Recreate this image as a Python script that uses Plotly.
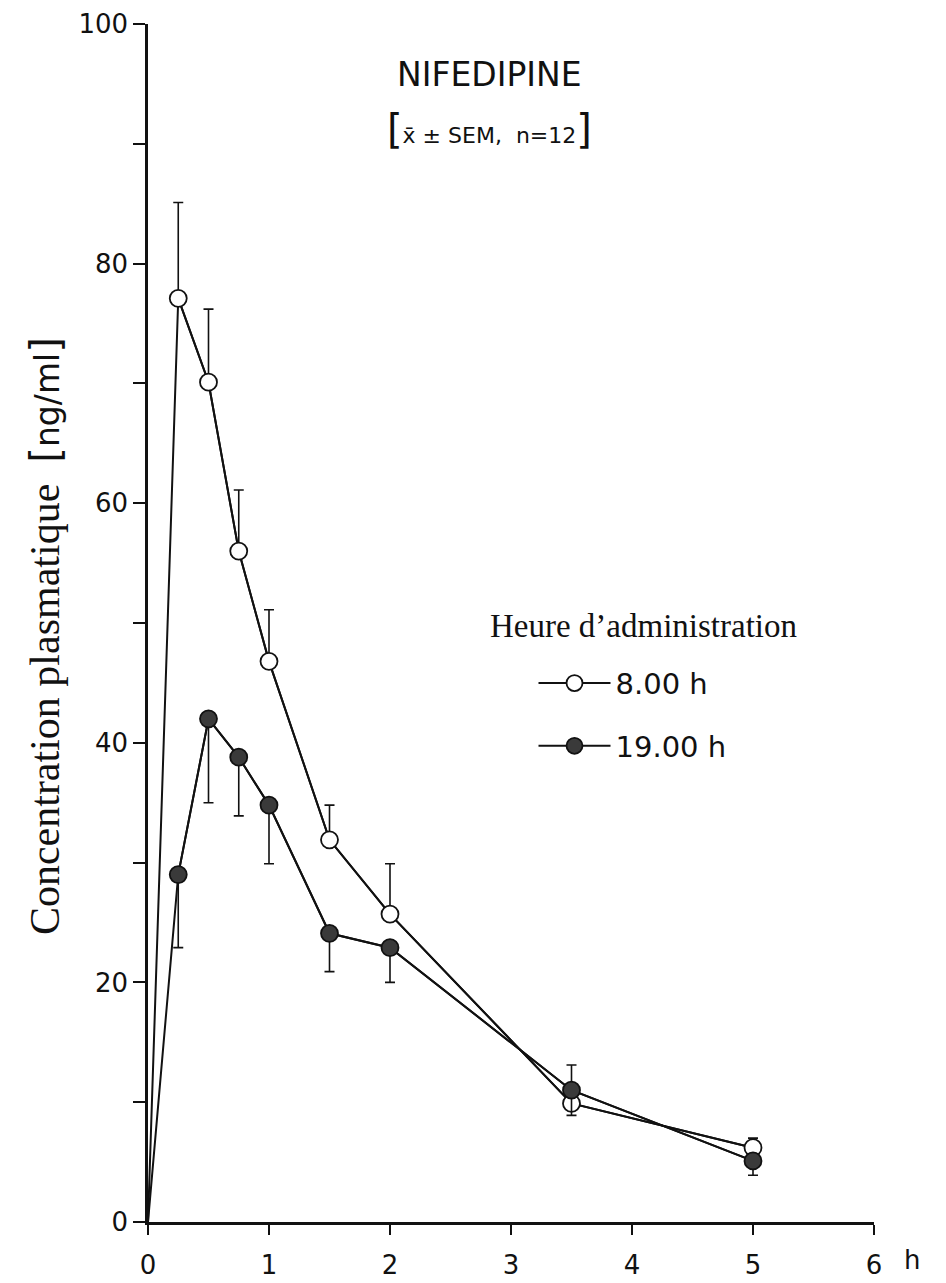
import plotly.graph_objects as go

# ---- data ----
hours = [0, 0.25, 0.5, 0.75, 1, 1.5, 2, 3.5, 5]
conc_8h = [0, 77.1, 70.1, 56.0, 46.8, 31.9, 25.7, 9.9, 6.2]
sem_8h = [0, 8.0, 6.1, 5.1, 4.3, 2.9, 4.2, 3.2, 0.8]
conc_19h = [0, 29.0, 42.0, 38.8, 34.8, 24.1, 22.9, 11.0, 5.1]
sem_19h = [0, 6.1, 7.0, 4.9, 4.9, 3.2, 2.9, 2.1, 1.2]

series_names = ["8.00 h", "19.00 h"]
x_ticks = [0, 1, 2, 3, 4, 5, 6]
y_ticks = [0, 20, 40, 60, 80, 100]
y_minor_ticks = [10, 30, 50, 70, 90]

INK = "#111111"
SANS = "DejaVu Sans"
SERIF = "Liberation Serif"

fig = go.Figure()

specs = [
    (conc_8h, sem_8h, series_names[0], "white", True),
    (conc_19h, sem_19h, series_names[1], "#3a3a3a", False),
]
for conc, sem, name, fill, upward in specs:
    zeros = [0] * (len(hours) - 1)
    # connecting line from dosing time (origin)
    fig.add_trace(go.Scatter(
        x=hours, y=conc, mode="lines",
        line=dict(color=INK, width=2), showlegend=False, hoverinfo="skip"))
    fig.add_trace(go.Scatter(
        x=hours[1:], y=conc[1:], mode="lines+markers", name=name,
        line=dict(color=INK, width=2),
        marker=dict(size=17, color=fill, line=dict(color=INK, width=1.8)),
        error_y=dict(type="data", symmetric=False,
                     array=sem[1:] if upward else zeros,
                     arrayminus=zeros if upward else sem[1:],
                     color=INK, thickness=1.6, width=5),
        legendgroup=name))

fig.update_layout(
    width=938, height=1275, autosize=False,
    margin=dict(l=140, r=72, t=16, b=61, autoexpand=False),
    plot_bgcolor="white", paper_bgcolor="white",
    font=dict(family=SANS, color=INK),
    showlegend=True,
    legend=dict(x=0.531, y=0.471, xanchor="left", yanchor="top",
                font=dict(family=SANS, size=29, color=INK),
                bgcolor="rgba(0,0,0,0)", itemwidth=72, tracegroupgap=22),
    xaxis=dict(range=[0, 6], tickvals=x_ticks, ticktext=[str(v) for v in x_ticks],
               showline=True, linecolor=INK, linewidth=2.5, automargin=False,
               ticks="outside", ticklen=10, tickwidth=2, tickcolor=INK,
               ticklabelstandoff=8, ticklabeloverflow="allow",
               showgrid=False, zeroline=False,
               tickfont=dict(family=SANS, size=26, color=INK)),
    yaxis=dict(range=[0, 100], tickvals=y_ticks, automargin=False,
               ticklabeloverflow="allow",
               showline=True, linecolor=INK, linewidth=2.5,
               ticks="outside", ticklen=12, tickwidth=2, tickcolor=INK,
               minor=dict(tickvals=y_minor_ticks, ticks="outside", ticklen=12,
                          tickwidth=2, tickcolor=INK),
               showgrid=False, zeroline=False,
               tickfont=dict(family=SANS, size=26, color=INK)),
)

big = '<span style="font-size:40px">{}</span>'
fig.add_annotation(text="NIFEDIPINE", x=0.47, y=0.958, xref="paper", yref="paper",
                   xanchor="center", yanchor="middle",
                   showarrow=False, font=dict(family=SANS, size=33, color=INK))
fig.add_annotation(text=big.format("[") + "x\u0304 \u00b1 SEM,  n=12" + big.format("]"),
                   x=0.47, y=0.9125, xref="paper", yref="paper",
                   xanchor="center", yanchor="middle",
                   showarrow=False, font=dict(family=SANS, size=22, color=INK))
fig.add_annotation(
    text="Concentration plasmatique  "
         '<span style="font-family:DejaVu Sans;font-size:33px">'
         + big.format("[") + "ng/ml" + big.format("]") + "</span>",
    x=-0.142, y=0.489, xref="paper", yref="paper", textangle=-90,
    xanchor="center", yanchor="middle",
    showarrow=False, font=dict(family=SERIF, size=42, color=INK))
fig.add_annotation(text="Heure d\u2019administration", x=0.468, y=0.4975,
                   xref="paper", yref="paper", xanchor="left", yanchor="middle",
                   showarrow=False,
                   font=dict(family=SERIF, size=33, color=INK))
fig.add_annotation(text="h", x=6, y=0, xref="x", yref="paper", xanchor="left",
                   yanchor="middle", xshift=28, yshift=-38, showarrow=False,
                   font=dict(family=SANS, size=26, color=INK))

fig.write_html("out.html")
